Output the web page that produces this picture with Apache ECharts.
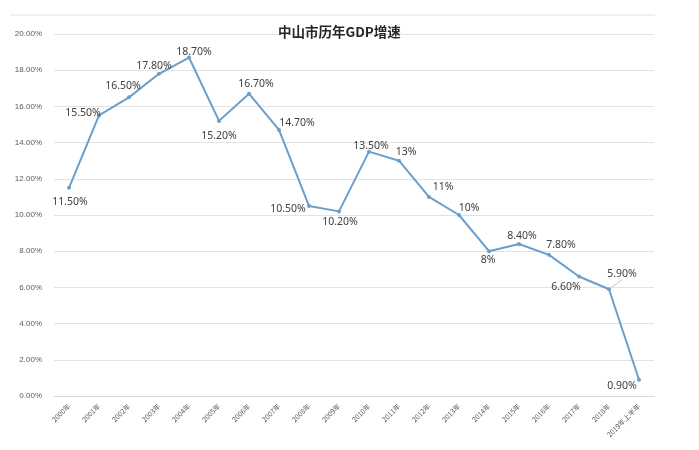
<!DOCTYPE html>
<html>
<head>
<meta charset="utf-8">
<script src="https://cdn.jsdelivr.net/npm/echarts@6/dist/echarts.min.js"></script>
<style>
html,body{margin:0;padding:0;background:#fff;}
#main{width:699px;height:450px;}
</style>
</head>
<body>
<div id="main"></div>
<script>
var years = ['2000年','2001年','2002年','2003年','2004年','2005年','2006年','2007年','2008年','2009年',
	'2010年','2011年','2012年','2013年','2014年','2015年','2016年','2017年','2018年','2019年上半年'];
var growth = [11.5,15.5,16.5,17.8,18.7,15.2,16.7,14.7,10.5,10.2,13.5,13,11,10,8,8.4,7.8,6.6,5.9,0.9];
var labelTexts = ['11.50%','15.50%','16.50%','17.80%','18.70%','15.20%','16.70%','14.70%','10.50%','10.20%',
	'13.50%','13%','11%','10%','8%','8.40%','7.80%','6.60%','5.90%','0.90%'];
// label offsets from each point (px)
var labelOffsets = [[1,14],[-16,-2],[-6,-11],[-5,-8],[5,-6],[0,15],[7,-10],[18,-7],[-21,3],[1,11],
	[2,-6],[7,-9],[14,-10],[10,-7],[-1,9],[3,-8],[12,-10],[-13,10],[13,-15],[-17,6]];

var chart = echarts.init(document.getElementById('main'));
var seriesData = growth.map(function(v, i){
	var item = {
		value: v,
		label: {
			position: 'inside',
			offset: labelOffsets[i],
			formatter: labelTexts[i]
		}
	};
	if (i === 18) {
		item.labelLine = {show: true, lineStyle: {color: '#c8c8c8', width: 1}};
	}
	return item;
});

var option = {
	backgroundColor: '#fff',
	title: {
		text: '中山市历年GDP增速',
		left: 273,
		top: 20,
		textStyle: {
			fontFamily: 'Noto Sans CJK SC',
			fontSize: 13.5,
			fontWeight: 'bold',
			color: '#262626'
		}
	},
	graphic: [{
		type: 'line',
		shape: {x1: 10, y1: 15, x2: 655, y2: 15},
		style: {stroke: '#e4e4e4', lineWidth: 1}
	}],
	grid: {
		left: 54,
		right: 45,
		top: 34,
		bottom: 54
	},
	xAxis: {
		type: 'category',
		data: years,
		axisLine: {lineStyle: {color: '#d9d9d9'}},
		axisTick: {show: false},
		axisLabel: {
			rotate: 45,
			fontSize: 7,
			color: '#595959',
			interval: 0,
			margin: 9,
			fontFamily: 'Noto Sans CJK SC'
		}
	},
	yAxis: {
		type: 'value',
		min: 0,
		max: 20,
		interval: 2,
		axisLine: {show: false},
		axisTick: {show: false},
		splitLine: {lineStyle: {color: '#e3e3e3'}},
		axisLabel: {
			fontSize: 8,
			color: '#595959',
			margin: 12,
			formatter: function(v){ return v.toFixed(2) + '%'; }
		}
	},
	series: [{
		type: 'line',
		data: seriesData,
		symbol: 'circle',
		symbolSize: 4,
		lineStyle: {color: '#6a9fcb', width: 2},
		itemStyle: {color: '#6a9fcb'},
		label: {
			show: true,
			fontSize: 10.5,
			color: '#404040',
			fontFamily: 'Noto Sans'
		},
		animation: false
	}]
};
chart.setOption(option);
</script>
</body>
</html>
